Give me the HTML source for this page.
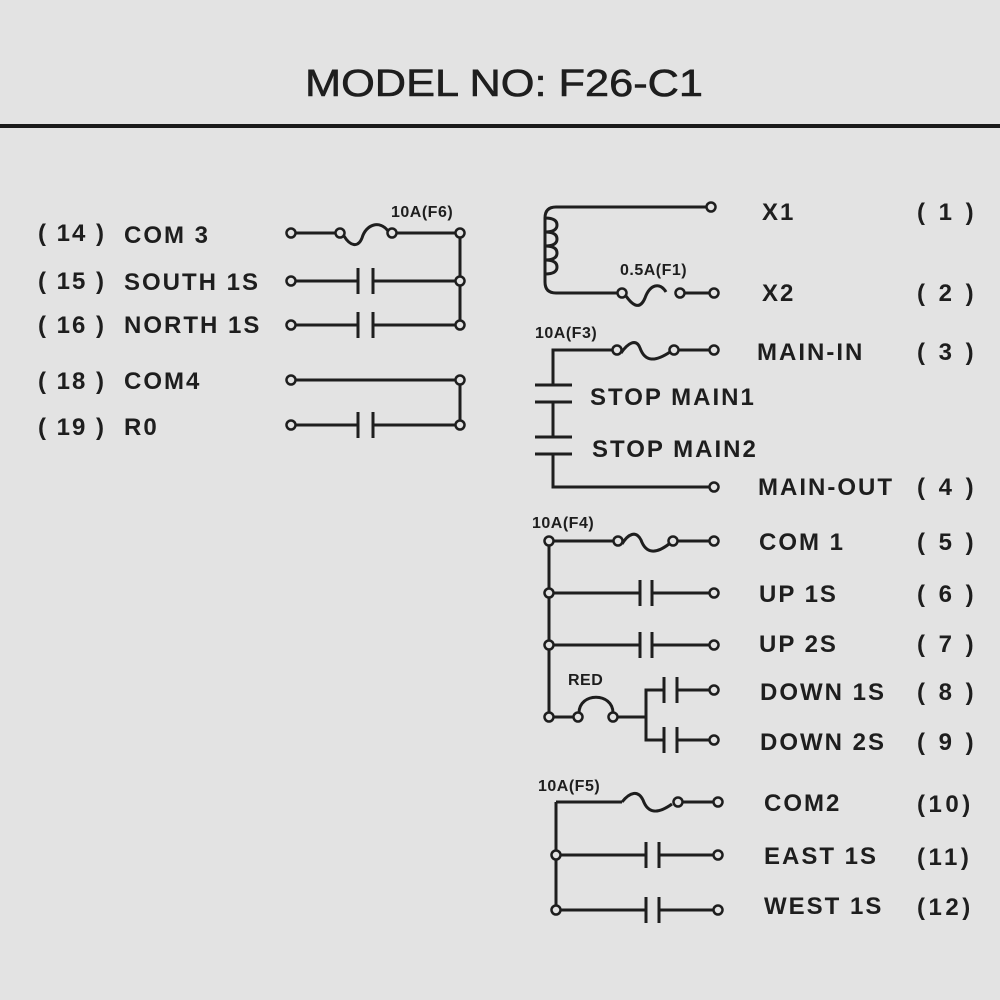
<!DOCTYPE html>
<html><head><meta charset="utf-8"><style>
html,body{margin:0;padding:0;background:#e3e3e3;}
svg{display:block}
text{font-family:"Liberation Sans",Arial,sans-serif;fill:#1e1e1e;}
.l{font-size:24px;font-weight:bold;letter-spacing:2px;}
.r{font-size:24px;font-weight:bold;letter-spacing:3.5px;}
.s{font-size:16px;font-weight:bold;letter-spacing:0.5px;}
</style></head><body>
<svg width="1000" height="1000" viewBox="0 0 1000 1000" xmlns="http://www.w3.org/2000/svg">
<rect width="1000" height="1000" fill="#e3e3e3"/>
<text x="305" y="96" font-size="38" textLength="398" lengthAdjust="spacingAndGlyphs" stroke="#1e1e1e" stroke-width="0.6">MODEL NO: F26-C1</text>
<rect x="0" y="124" width="1000" height="4" fill="#1a1a1a"/>

<g stroke="#1e1e1e" stroke-width="3" fill="none">
<line x1="295" y1="233" x2="336" y2="233"/>
<path d="M344,236 C350,246 358,248 362,238 C366,224 380,220 388,231"/>
<line x1="396" y1="233" x2="460" y2="233"/>
<line x1="460" y1="233" x2="460" y2="325"/>
<line x1="295" y1="281" x2="358" y2="281"/><line x1="358" y1="268" x2="358" y2="294"/>
<line x1="373" y1="268" x2="373" y2="294"/><line x1="373" y1="281" x2="460" y2="281"/>
<line x1="295" y1="325" x2="358" y2="325"/><line x1="358" y1="312" x2="358" y2="338"/>
<line x1="373" y1="312" x2="373" y2="338"/><line x1="373" y1="325" x2="460" y2="325"/>
<line x1="295" y1="380" x2="460" y2="380"/>
<line x1="460" y1="380" x2="460" y2="425"/>
<line x1="295" y1="425" x2="358" y2="425"/><line x1="358" y1="412" x2="358" y2="438"/>
<line x1="373" y1="412" x2="373" y2="438"/><line x1="373" y1="425" x2="460" y2="425"/>

<path d="M707,207 H556 Q545,207 545,218 V282 Q545,293 556,293 H618"/>
<path d="M545,218 q12,0 12,7 t-12,7 M545,232 q12,0 12,7 t-12,7 M545,246 q12,0 12,7 t-12,7 M545,260 q12,0 12,7 t-12,7"/>
<path d="M626,296 C633,306 640,310 645,298 C650,284 660,282 666,292"/>
<line x1="684" y1="293" x2="710" y2="293"/>

<path d="M613,350 H553 V385"/>
<path d="M621,353 C628,343 636,338 640,348 C645,362 655,362 670,352"/>
<line x1="678" y1="350" x2="710" y2="350"/>
<line x1="535" y1="385" x2="572" y2="385"/><line x1="535" y1="402" x2="572" y2="402"/>
<line x1="553" y1="402" x2="553" y2="437"/>
<line x1="535" y1="437" x2="572" y2="437"/><line x1="535" y1="454" x2="572" y2="454"/>
<path d="M553,454 V487 H710"/>

<line x1="549" y1="541" x2="549" y2="713"/>
<line x1="553" y1="541" x2="614" y2="541"/>
<path d="M622,544 C628,534 636,530 641,540 C646,554 656,554 669,544"/>
<line x1="677" y1="541" x2="710" y2="541"/>
<line x1="553" y1="593" x2="640" y2="593"/><line x1="640" y1="580" x2="640" y2="606"/>
<line x1="652" y1="580" x2="652" y2="606"/><line x1="652" y1="593" x2="710" y2="593"/>
<line x1="553" y1="645" x2="640" y2="645"/><line x1="640" y1="632" x2="640" y2="658"/>
<line x1="652" y1="632" x2="652" y2="658"/><line x1="652" y1="645" x2="710" y2="645"/>
<line x1="553" y1="717" x2="574" y2="717"/>
<path d="M579,713 C579,692 613,692 613,713"/>
<line x1="617" y1="717" x2="646" y2="717"/>
<path d="M664,690 H646 V740 H664"/>
<line x1="664" y1="677" x2="664" y2="703"/><line x1="677" y1="677" x2="677" y2="703"/>
<line x1="677" y1="690" x2="710" y2="690"/>
<line x1="664" y1="727" x2="664" y2="753"/><line x1="677" y1="727" x2="677" y2="753"/>
<line x1="677" y1="740" x2="710" y2="740"/>

<line x1="556" y1="802" x2="556" y2="906"/>
<line x1="556" y1="802" x2="622" y2="802"/>
<path d="M622,802 C630,792 638,790 643,800 C648,814 658,814 672,804"/>
<line x1="682" y1="802" x2="714" y2="802"/>
<line x1="560" y1="855" x2="646" y2="855"/><line x1="646" y1="842" x2="646" y2="868"/>
<line x1="659" y1="842" x2="659" y2="868"/><line x1="659" y1="855" x2="714" y2="855"/>
<line x1="560" y1="910" x2="646" y2="910"/><line x1="646" y1="897" x2="646" y2="923"/>
<line x1="659" y1="897" x2="659" y2="923"/><line x1="659" y1="910" x2="714" y2="910"/>
</g>

<g stroke="#1e1e1e" stroke-width="2.5" fill="#e3e3e3">
<circle cx="291" cy="233" r="4.5"/><circle cx="340" cy="233" r="4.5"/><circle cx="392" cy="233" r="4.5"/><circle cx="460" cy="233" r="4.5"/>
<circle cx="291" cy="281" r="4.5"/><circle cx="460" cy="281" r="4.5"/>
<circle cx="291" cy="325" r="4.5"/><circle cx="460" cy="325" r="4.5"/>
<circle cx="291" cy="380" r="4.5"/><circle cx="460" cy="380" r="4.5"/>
<circle cx="291" cy="425" r="4.5"/><circle cx="460" cy="425" r="4.5"/>
<circle cx="711" cy="207" r="4.5"/>
<circle cx="622" cy="293" r="4.5"/><circle cx="680" cy="293" r="4.5"/><circle cx="714" cy="293" r="4.5"/>
<circle cx="617" cy="350" r="4.5"/><circle cx="674" cy="350" r="4.5"/><circle cx="714" cy="350" r="4.5"/>
<circle cx="714" cy="487" r="4.5"/>
<circle cx="549" cy="541" r="4.5"/><circle cx="618" cy="541" r="4.5"/><circle cx="673" cy="541" r="4.5"/><circle cx="714" cy="541" r="4.5"/>
<circle cx="549" cy="593" r="4.5"/><circle cx="714" cy="593" r="4.5"/>
<circle cx="549" cy="645" r="4.5"/><circle cx="714" cy="645" r="4.5"/>
<circle cx="549" cy="717" r="4.5"/><circle cx="578" cy="717" r="4.5"/><circle cx="613" cy="717" r="4.5"/>
<circle cx="714" cy="690" r="4.5"/><circle cx="714" cy="740" r="4.5"/>
<circle cx="678" cy="802" r="4.5"/><circle cx="718" cy="802" r="4.5"/>
<circle cx="556" cy="855" r="4.5"/><circle cx="718" cy="855" r="4.5"/>
<circle cx="556" cy="910" r="4.5"/><circle cx="718" cy="910" r="4.5"/>
</g>

<text class="l" x="38" y="241">( 14 )</text><text class="l" x="124" y="243">COM 3</text>
<text class="l" x="38" y="289">( 15 )</text><text class="l" x="124" y="290">SOUTH 1S</text>
<text class="l" x="38" y="333">( 16 )</text><text class="l" x="124" y="333">NORTH 1S</text>
<text class="l" x="38" y="389">( 18 )</text><text class="l" x="124" y="389">COM4</text>
<text class="l" x="38" y="435">( 19 )</text><text class="l" x="124" y="435">R0</text>
<text class="s" x="391" y="217">10A(F6)</text>
<text class="s" x="620" y="275">0.5A(F1)</text>
<text class="s" x="535" y="338">10A(F3)</text>
<text class="s" x="532" y="528">10A(F4)</text>
<text class="s" x="568" y="685">RED</text>
<text class="s" x="538" y="791">10A(F5)</text>

<text class="l" x="590" y="405">STOP MAIN1</text>
<text class="l" x="592" y="457">STOP MAIN2</text>

<text class="l" x="762" y="220">X1</text><text class="r" x="917" y="220">( 1 )</text>
<text class="l" x="762" y="301">X2</text><text class="r" x="917" y="301">( 2 )</text>
<text class="l" x="757" y="360">MAIN-IN</text><text class="r" x="917" y="360">( 3 )</text>
<text class="l" x="758" y="495">MAIN-OUT</text><text class="r" x="917" y="495">( 4 )</text>
<text class="l" x="759" y="550">COM 1</text><text class="r" x="917" y="550">( 5 )</text>
<text class="l" x="759" y="602">UP  1S</text><text class="r" x="917" y="602">( 6 )</text>
<text class="l" x="759" y="652">UP  2S</text><text class="r" x="917" y="652">( 7 )</text>
<text class="l" x="760" y="700">DOWN 1S</text><text class="r" x="917" y="700">( 8 )</text>
<text class="l" x="760" y="750">DOWN 2S</text><text class="r" x="917" y="750">( 9 )</text>
<text class="l" x="764" y="811">COM2</text><text class="r" x="917" y="812">(10)</text>
<text class="l" x="764" y="864">EAST 1S</text><text class="r" x="917" y="865">(11)</text>
<text class="l" x="764" y="914">WEST 1S</text><text class="r" x="917" y="915">(12)</text>
</svg>
</body></html>
